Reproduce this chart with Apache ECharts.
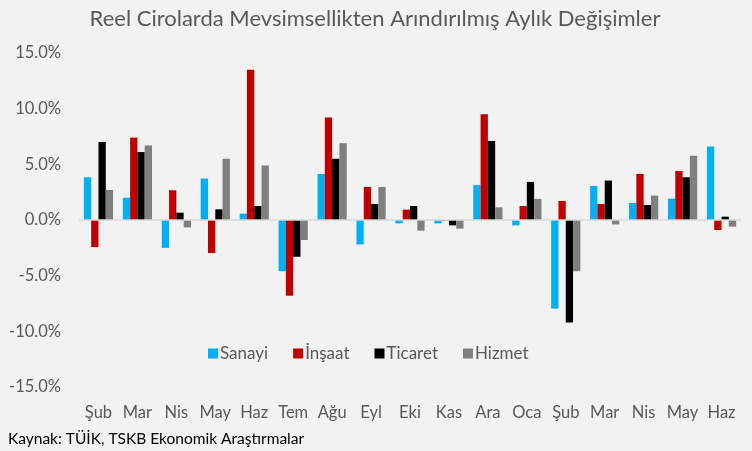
<!DOCTYPE html>
<html>
<head>
<meta charset="utf-8">
<script src="https://cdn.jsdelivr.net/npm/echarts@6/dist/echarts.min.js"></script>
<style>
html,body{margin:0;padding:0;background:#f2f2f2;}
#c{width:752px;height:451px;}
</style>
</head>
<body>
<div id="c"></div>
<script>
var categories = ['Şub','Mar','Nis','May','Haz','Tem','Ağu','Eyl','Eki','Kas','Ara','Oca','Şub','Mar','Nis','May','Haz'];
var sanayi  = [3.84, 2.0, -2.5, 3.72, 0.57, -4.6, 4.14, -2.2, -0.3, -0.3, 3.15, -0.48, -7.96, 3.06, 1.53, 1.92, 6.6];
var insaat  = [-2.43, 7.4, 2.67, -2.97, 13.5, -6.8, 9.2, 2.97, 0.93, -0.05, 9.5, 1.26, 1.71, 1.44, 4.14, 4.41, -0.9];
var ticaret = [7.0, 6.1, 0.66, 0.96, 1.26, -3.3, 5.5, 1.44, 1.26, -0.48, 7.1, 3.42, -9.2, 3.54, 1.35, 3.84, 0.3];
var hizmet  = [2.7, 6.7, -0.66, 5.5, 4.9, -1.8, 6.9, 2.97, -0.96, -0.78, 1.14, 1.9, -4.6, -0.4, 2.19, 5.77, -0.6];
var seriesNames = ['Sanayi','İnşaat','Ticaret','Hizmet'];
var yTicks = [-15, -10, -5, 0, 5, 10, 15];

var FONT = 'Lato';
var colors = ['#00b0f0','#c00000','#000000','#7f7f7f'];
var dataSets = [sanayi, insaat, ticaret, hizmet];

var chart = echarts.init(document.getElementById('c'), null, {renderer:'canvas'});
var series = dataSets.map(function(d, i){
  var s = {
    name: seriesNames[i],
    type: 'bar',
    data: d,
    barGap: '0%',
    barCategoryGap: '25%',
    itemStyle: {color: colors[i]},
    animation: false
  };
  if (i === 0) {
    s.markLine = {
      silent: true,
      symbol: ['none','none'],
      label: {show:false},
      lineStyle: {color:'#d9d9d9', width:1.5, type:'solid'},
      data: [{yAxis: 0}],
      animation: false
    };
  }
  return s;
});

chart.setOption({
  backgroundColor: '#f2f2f2',
  textStyle: {fontFamily: FONT},
  title: [{
    text: 'Reel Cirolarda Mevsimsellikten Arındırılmış Aylık Değişimler',
    left: 370, top: 3, textAlign: 'center',
    textStyle: {fontFamily: FONT, fontSize: 22, fontWeight: 'normal', color: '#595959'}
  },{
    text: 'Kaynak: TÜİK, TSKB Ekonomik Araştırmalar',
    left: 3, top: 426,
    textStyle: {fontFamily: FONT, fontSize: 15.5, fontWeight: 'normal', color: '#000000'}
  }],
  legend: {
    data: seriesNames,
    left: 203, top: 340,
    itemWidth: 10, itemHeight: 10, itemGap: 25,
    icon: 'rect',
    textStyle: {fontFamily: FONT, fontSize: 17, color: '#595959', padding:[0,0,0,-3]}
  },
  grid: {left: 79, right: 11, top: 53, bottom: 64, containLabel: false},
  xAxis: {
    type: 'category',
    data: categories,
    axisLine: {show: false, onZero: false},
    axisTick: {show: false},
    axisLabel: {fontFamily: FONT, fontSize: 16.5, color: '#595959', margin: 17, interval: 0}
  },
  yAxis: {
    type: 'value',
    min: -15, max: 15, interval: 5,
    axisLine: {show: false},
    axisTick: {show: false},
    splitLine: {show: false},
    axisLabel: {fontFamily: FONT, fontSize: 16.5, color: '#595959', margin: 18,
      formatter: function(v){ return yTicks.indexOf(v) >= 0 ? v.toFixed(1) + '%' : ''; }}
  },
  series: series
});
</script>
</body>
</html>
